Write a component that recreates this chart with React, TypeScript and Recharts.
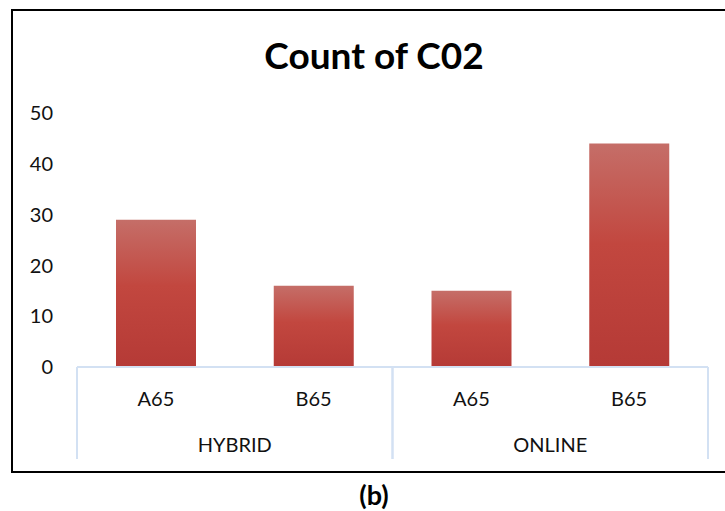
import React from 'react';
import { BarChart, Bar, XAxis, YAxis } from 'recharts';

const groups = ['HYBRID', 'HYBRID', 'ONLINE', 'ONLINE'];
const codes = ['A65', 'B65', 'A65', 'B65'];
const counts = [29, 16, 15, 44];
const yTicks = [0, 10, 20, 30, 40, 50];

const data = codes.map((code, i) => ({
  key: `${groups[i]}-${code}`,
  code,
  group: groups[i],
  count: counts[i]
}));

const FONT = 'Lato, "Liberation Sans", sans-serif';
const LINE = '#d3e1f3';
const SUB_H = 46;

function SubTick(props: any) {
  const { x, y, payload } = props;
  const label = data[payload.index] ? data[payload.index].code : payload.value;
  return (
    <text
      x={x}
      y={y + 31}
      textAnchor="middle"
      dominantBaseline="central"
      fontFamily={FONT}
      fontSize={20}
      fill="#111"
    >
      {label}
    </text>
  );
}

function GroupTick(props: any) {
  const { x, y, payload } = props;
  const half = payload.offset || 0;
  return (
    <g>
      <line x1={x - half} x2={x - half} y1={y - SUB_H} y2={y + 46} stroke={LINE} strokeWidth={2} />
      <line x1={x + half} x2={x + half} y1={y - SUB_H} y2={y + 46} stroke={LINE} strokeWidth={2} />
      <text
        x={x}
        y={y + 31}
        textAnchor="middle"
        dominantBaseline="central"
        fontFamily={FONT}
        fontSize={20}
        fill="#111"
      >
        {payload.value}
      </text>
    </g>
  );
}

export default function App() {
  return (
    <div
      style={{
        position: 'absolute',
        left: 0,
        top: 0,
        width: 725,
        height: 511,
        overflow: 'hidden',
        background: '#fff',
        fontFamily: FONT
      }}
    >
      <div
        style={{
          position: 'absolute',
          left: 11,
          top: 9,
          width: 800,
          height: 460,
          border: '2px solid #000'
        }}
      />
      <div
        style={{
          position: 'absolute',
          left: 0,
          width: 748,
          top: 33,
          lineHeight: '44px',
          textAlign: 'center',
          fontSize: 37,
          fontWeight: 700,
          color: '#000'
        }}
      >
        Count of C02
      </div>
      <div
        style={{
          position: 'absolute',
          left: 0,
          width: 748,
          top: 479,
          lineHeight: '32px',
          textAlign: 'center',
          fontSize: 27,
          fontWeight: 700,
          color: '#000'
        }}
      >
        (b)
      </div>
      <div style={{ position: 'absolute', left: 0, top: 0 }}>
        <BarChart
          width={725}
          height={511}
          data={data}
          margin={{ top: 113, right: 17, bottom: 46, left: 0 }}
        >
          <defs>
            <linearGradient id="barFill" x1="0" y1="0" x2="0" y2="1">
              <stop offset="0%" stopColor="#c56e68" />
              <stop offset="45%" stopColor="#c2473f" />
              <stop offset="100%" stopColor="#b53a36" />
            </linearGradient>
          </defs>
          <XAxis
            xAxisId="level1"
            dataKey="key"
            height={SUB_H}
            tickSize={0}
            tickMargin={0}
            tickLine={false}
            axisLine={{ stroke: LINE, strokeWidth: 2 }}
            tick={<SubTick />}
            interval={0}
          />
          <XAxis
            xAxisId="level2"
            dataKey="group"
            allowDuplicatedCategory={false}
            height={52}
            tickSize={0}
            tickMargin={0}
            tickLine={false}
            axisLine={false}
            tick={<GroupTick />}
            interval={0}
          />
          <YAxis
            domain={[0, 50]}
            ticks={yTicks}
            width={77}
            axisLine={false}
            tickLine={false}
            tickSize={0}
            tickMargin={24}
            tick={{ fontFamily: FONT, fontSize: 20, fill: '#111' }}
          />
          <Bar
            xAxisId="level1"
            dataKey="count"
            barSize={80}
            fill="url(#barFill)"
            isAnimationActive={false}
          />
        </BarChart>
      </div>
    </div>
  );
}
